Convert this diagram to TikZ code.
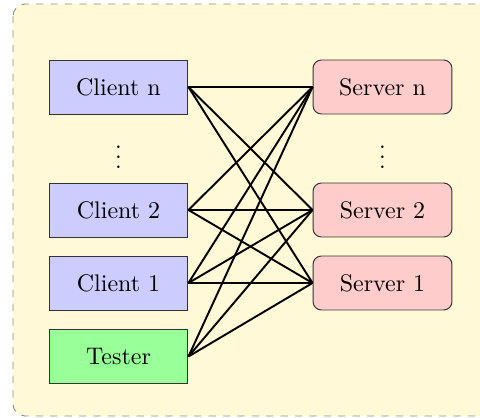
\documentclass[tikz,border=0pt]{standalone}
\definecolor{bgyellow}{RGB}{255,249,215}
\begin{document}
\begin{tikzpicture}[x=0.4167pt,y=-0.4167pt,
  clientbox/.style={draw=black!80,fill=blue!20,minimum width=57.9pt,minimum height=22.5pt,inner sep=0pt},
  testerbox/.style={draw=black!80,fill=green!40,minimum width=57.9pt,minimum height=22.5pt,inner sep=0pt},
  serverbox/.style={draw=black!80,fill=red!20,rounded corners=3.5pt,minimum width=57.9pt,minimum height=22.5pt,inner sep=0pt},
  link/.style={thick,black}]
\useasboundingbox (0,0) rectangle (480,418);
\draw[dashed,draw=black!45,fill=bgyellow,rounded corners=5pt] (13,4) rectangle (494,416);
\node[clientbox] (cn) at (118.5,87) {Client n};
\node[clientbox] (c2) at (118.5,210) {Client 2};
\node[clientbox] (c1) at (118.5,283) {Client 1};
\node[testerbox] (t) at (118.5,356.5) {Tester};
\node[serverbox] (sn) at (382.5,87) {Server n};
\node[serverbox] (s2) at (382.5,210) {Server 2};
\node[serverbox] (s1) at (382.5,283) {Server 1};
\node (dl) at (118.5,150) {$\vdots$};
\node (dr) at (382.5,150) {$\vdots$};
\foreach \c in {cn,c2,c1,t}{
  \foreach \s in {sn,s2,s1}{
    \draw[link] (\c.east) -- (\s.west);
  }
}
\end{tikzpicture}
\end{document}
